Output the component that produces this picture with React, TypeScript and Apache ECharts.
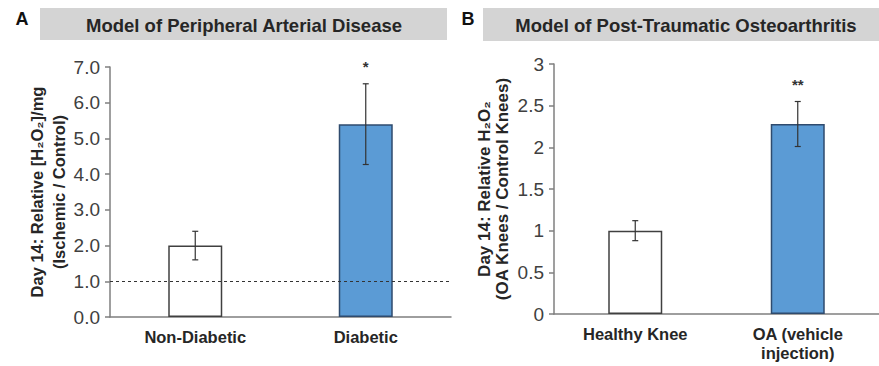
import React, { useEffect, useRef } from "react";
import * as echarts from "echarts";

// Panel A: Model of Peripheral Arterial Disease
const catsA = ["Non-Diabetic", "Diabetic"];
const meanA = [2.0, 5.4];
const errA = [0.4, 1.13];
const starsA = ["", "*"];
const refLineA = 1.0;

// Panel B: Model of Post-Traumatic Osteoarthritis
const catsB = ["Healthy Knee", "OA (vehicle\ninjection)"];
const meanB = [1.0, 2.28];
const errB = [0.12, 0.27];
const starsB = ["", "**"];

const barColors = ["#ffffff", "#5b9bd5"];
const barBorders = ["#404040", "#2f4b6e"];

const FONT = "'Liberation Sans', Arial, Helvetica, sans-serif";

function errorSeries(xi: number, means: number[], errs: number[], stars: string[]) {
  return {
    type: "custom",
    xAxisIndex: xi,
    yAxisIndex: xi,
    silent: true,
    z: 5,
    data: means.map((m, i) => [i, m - errs[i], m + errs[i]]),
    renderItem: (params: any, api: any) => {
      const x = api.value(0);
      const lo = api.coord([x, api.value(1)]);
      const hi = api.coord([x, api.value(2)]);
      const cap = 3;
      const st = { stroke: "#333", lineWidth: 1.2 };
      const children: any[] = [
        { type: "line", shape: { x1: lo[0], y1: lo[1], x2: hi[0], y2: hi[1] }, style: st },
        { type: "line", shape: { x1: lo[0] - cap, y1: lo[1], x2: lo[0] + cap, y2: lo[1] }, style: st },
        { type: "line", shape: { x1: hi[0] - cap, y1: hi[1], x2: hi[0] + cap, y2: hi[1] }, style: st },
      ];
      const s = stars[params.dataIndex];
      if (s) {
        children.push({
          type: "text",
          x: hi[0],
          y: hi[1] - 10,
          style: { text: s, fontSize: 15, fontWeight: "bold", fill: "#333", align: "center", verticalAlign: "bottom", fontFamily: FONT },
        });
      }
      return { type: "group", children };
    },
  };
}

export default function App() {
  const ref = useRef<HTMLDivElement>(null);
  useEffect(() => {
    if (!ref.current) return;
    const chart = echarts.init(ref.current, null, { renderer: "svg" });
    const axisLine = { show: true, lineStyle: { color: "#7f7f7f", width: 1.5 } };
    const yLabel = { color: "#404040", fontSize: 19, fontFamily: FONT, margin: 10 };
    const xLabel = { color: "#262626", fontSize: 16.5, fontWeight: "bold", fontFamily: FONT, margin: 10, lineHeight: 19 };
    const nameStyle = { color: "#262626", fontSize: 16.5, fontWeight: "bold", fontFamily: FONT, lineHeight: 22, align: "center" };
    chart.setOption({
      animation: false,
      backgroundColor: "#ffffff",
      textStyle: { fontFamily: FONT },
      grid: [
        { left: 110, width: 341, top: 67, bottom: 49 },
        { left: 554, width: 339, top: 64, bottom: 52 },
      ],
      xAxis: [
        { type: "category", gridIndex: 0, data: catsA, axisLine, axisTick: { show: false }, axisLabel: xLabel },
        { type: "category", gridIndex: 1, data: catsB, axisLine, axisTick: { show: false }, axisLabel: xLabel },
      ],
      yAxis: [
        {
          type: "value", gridIndex: 0, min: 0, max: 7, interval: 1,
          axisLine, axisTick: { show: true, inside: false, length: 5, lineStyle: { color: "#7f7f7f", width: 1.5 } },
          splitLine: { show: false },
          axisLabel: { ...yLabel, formatter: (v: number) => v.toFixed(1) },
          name: "Day 14: Relative [H₂O₂]/mg\n(Ischemic / Control)",
          nameLocation: "middle", nameGap: 40, nameRotate: 90,
          nameTextStyle: nameStyle,
        },
        {
          type: "value", gridIndex: 1, min: 0, max: 3, interval: 0.5,
          axisLine, axisTick: { show: true, inside: false, length: 5, lineStyle: { color: "#7f7f7f", width: 1.5 } },
          splitLine: { show: false },
          axisLabel: yLabel,
          name: "Day 14: Relative H₂O₂\n(OA Knees / Control Knees)",
          nameLocation: "middle", nameGap: 43, nameRotate: 90,
          nameTextStyle: { ...nameStyle, fontSize: 17, lineHeight: 18 },
        },
      ],
      series: [
        {
          type: "bar", xAxisIndex: 0, yAxisIndex: 0, barWidth: 54,
          data: meanA.map((v, i) => ({ value: v, itemStyle: { color: barColors[i], borderColor: barBorders[i], borderWidth: 1.5 } })),
          markLine: {
            silent: true, symbol: "none", label: { show: false },
            lineStyle: { type: [3, 3], color: "#333", width: 1.2 },
            data: [{ yAxis: refLineA }],
          },
        },
        errorSeries(0, meanA, errA, starsA),
        {
          type: "bar", xAxisIndex: 1, yAxisIndex: 1, barWidth: 54,
          data: meanB.map((v, i) => ({ value: v, itemStyle: { color: barColors[i], borderColor: barBorders[i], borderWidth: 1.5 } })),
        },
        errorSeries(1, meanB, errB, starsB),
      ],
      graphic: [
        { type: "rect", shape: { x: 40, y: 8, width: 407, height: 32 }, style: { fill: "#d4d4d4" }, z: 0 },
        { type: "rect", shape: { x: 483, y: 8, width: 400, height: 33 }, style: { fill: "#d4d4d4" }, z: 0 },
        { type: "text", x: 244, y: 25, style: { text: "Model of Peripheral Arterial Disease", fontSize: 18.5, fontWeight: "bold", fill: "#262626", align: "center", verticalAlign: "middle", fontFamily: FONT }, z: 1 },
        { type: "text", x: 686, y: 25, style: { text: "Model of Post-Traumatic Osteoarthritis", fontSize: 18.5, fontWeight: "bold", fill: "#262626", align: "center", verticalAlign: "middle", fontFamily: FONT }, z: 1 },
        { type: "text", x: 22, y: 19, style: { text: "A", fontSize: 18, fontWeight: "bold", fill: "#111", align: "center", verticalAlign: "middle", fontFamily: FONT }, z: 1 },
        { type: "text", x: 468, y: 19, style: { text: "B", fontSize: 18, fontWeight: "bold", fill: "#111", align: "center", verticalAlign: "middle", fontFamily: FONT }, z: 1 },
      ],
    });
    return () => chart.dispose();
  }, []);
  return <div ref={ref} style={{ width: 879, height: 366, position: "absolute", left: 0, top: 0 }} />;
}
